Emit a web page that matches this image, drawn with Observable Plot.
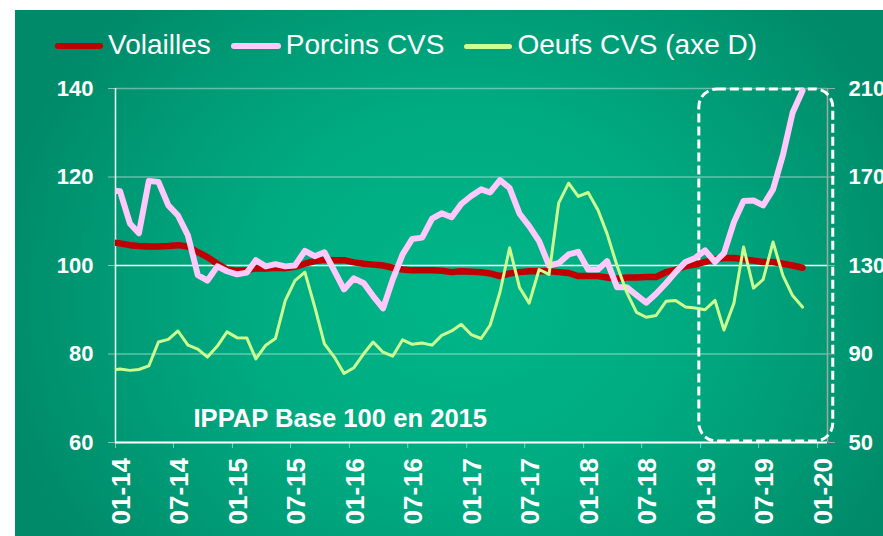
<!DOCTYPE html>
<html>
<head>
<meta charset="utf-8">
<script src="https://cdn.jsdelivr.net/npm/d3@7"></script>
<script src="https://cdn.jsdelivr.net/npm/@observablehq/plot@0.6"></script>
<style>
  html, body { margin: 0; padding: 0; background: #fff; }
  #wrap { position: relative; width: 883px; height: 536px; overflow: hidden; background: #fff;
          font-family: "Liberation Sans", Arial, Helvetica, sans-serif; }
  #bg { position: absolute; left: 15px; top: 10px; right: 0; bottom: 0;
        background: radial-gradient(ellipse 55% 80% at 52% 55%, #00b689 0%, #00ab81 45%, #009a75 75%, #008a69 100%); }
  #chart { position: absolute; left: 0; top: 0; }
  #legend { position: absolute; left: 55px; top: 31px; height: 28px; display: flex; align-items: center;
            color: #fff; font-size: 28px; line-height: 28px; white-space: nowrap; }
  #legend .sw { display: inline-block; border-radius: 3px; margin-right: 5px; position: relative; top: 1px; }
  #legend .it { display: flex; align-items: center; margin-right: 20px; }
</style>
</head>
<body>
<div id="wrap">
  <div id="bg"></div>
  <div id="chart"></div>
  <div id="legend"></div>
</div>
<script>
// ---- data (monthly, Dec 2013 .. Nov 2019) ----
const seriesNames = ["Volailles", "Porcins CVS", "Oeufs CVS (axe D)"];
const seriesColors = ["#c00000", "#ffc9fb", "#ccff90"];

const volailles = [105.3,
  105.0, 104.6, 104.4, 104.3, 104.3, 104.4, 104.6, 104.3, 103.0, 101.9, 100.4, 99.1,
  98.8, 98.9, 99.4, 99.3, 99.5, 99.4, 99.7, 100.4, 101.0, 101.3, 101.2, 101.2,
  100.7, 100.4, 100.2, 100.0, 99.5, 99.1, 98.9, 98.9, 98.9, 98.8, 98.5, 98.7,
  98.6, 98.5, 98.2, 97.6, 98.2, 98.5, 98.7, 98.7, 98.7, 98.5, 98.3, 97.6,
  97.6, 97.6, 97.3, 97.0, 97.3, 97.3, 97.4, 97.4, 98.5, 99.0, 99.9, 100.2,
  100.8, 101.4, 101.7, 101.7, 101.4, 101.1, 100.8, 100.8, 100.4, 100.0, 99.5];

const porcins = [117.0,
  116.8, 109.5, 107.3, 119.1, 118.9, 113.6, 111.3, 106.8, 97.8, 96.6, 99.8, 98.7,
  98.0, 98.4, 101.2, 99.8, 100.3, 99.8, 100.0, 103.3, 102.1, 103.0, 98.8, 94.6,
  97.1, 96.0, 93.1, 90.3, 96.8, 102.5, 106.0, 106.3, 110.6, 111.8, 110.9, 113.9,
  115.7, 117.2, 116.5, 119.3, 117.5, 111.7, 108.9, 105.5, 100.0, 100.5, 102.5, 103.1,
  99.1, 99.1, 101.0, 95.1, 95.1, 93.3, 91.6, 93.6, 96.0, 98.5, 100.8, 101.7,
  103.4, 100.8, 102.8, 109.8, 114.6, 114.7, 113.6, 117.2, 125.0, 134.5, 139.5];

const oeufs = [82.6,
  83.2, 82.6, 83.0, 84.6, 95.4, 96.6, 100.4, 94.0, 92.2, 88.6, 93.6, 100.0,
  97.4, 97.2, 87.8, 94.0, 97.0, 114.2, 123.2, 127.0, 111.2, 94.6, 88.6, 81.2,
  83.8, 90.2, 95.4, 90.8, 89.0, 96.4, 94.4, 95.0, 94.0, 98.4, 100.4, 103.4,
  98.8, 97.0, 103.0, 118.0, 138.0, 120.0, 113.0, 128.2, 126.0, 158.2, 167.2, 161.2,
  163.0, 155.0, 144.4, 130.0, 118.0, 108.8, 106.6, 107.4, 113.8, 114.2, 111.2, 110.8,
  110.0, 114.2, 100.8, 113.0, 138.4, 119.8, 123.6, 140.6, 125.4, 116.4, 111.2];

const leftTicks = [60, 80, 100, 120, 140];
const rightTicks = [50, 90, 130, 170, 210];
const xDomain = [new Date(Date.UTC(2014, 0, 1)), new Date(Date.UTC(2020, 1, 1))];
const xTicks = d3.utcMonth.every(6).range(new Date(Date.UTC(2014, 0, 1)), new Date(Date.UTC(2020, 0, 2)));
const noteText = "IPPAP Base 100 en 2015";
const highlight = { x1: new Date(Date.UTC(2018, 11, 28)), x2: new Date(Date.UTC(2020, 1, 19)), y1: 60.2, y2: 139.8 };

// ---- build table ----
const firstMonth = new Date(Date.UTC(2013, 11, 15));
const months = volailles.map((_, i) => d3.utcMonth.offset(firstMonth, i));
const table = months.map((date, i) => ({ date, volailles: volailles[i], porcins: porcins[i], oeufs: oeufs[i] }));

// right axis (50..210) mapped onto left axis (60..140)
const toLeft = r => 60 + (r - 50) / 2;
const toRight = l => Math.round(50 + (l - 60) * 2);

const FONT = '"Liberation Sans", Arial, Helvetica, sans-serif';

const chart = Plot.plot({
  width: 883,
  height: 536,
  marginTop: 88,
  marginBottom: 94,
  marginLeft: 115,
  marginRight: 56,
  style: { background: "transparent", color: "white", fontFamily: FONT },
  x: { type: "utc", domain: xDomain, axis: null },
  y: { domain: [60, 140], axis: null },
  marks: [
    // grid
    Plot.ruleY(leftTicks.filter(v => v !== 60 && v !== 100), { stroke: "white", strokeOpacity: 0.38, strokeWidth: 1.5 }),
    Plot.ruleY([100], { stroke: "white", strokeWidth: 1.5 }),
    // left axis
    Plot.axisY({ anchor: "left", ticks: leftTicks, tickSize: 7, tickPadding: 15, stroke: "white", strokeOpacity: 0.5,
                 fill: "white", fontSize: 22, fontWeight: "bold", tickFormat: d => String(d) }),
    // right axis
    Plot.axisY({ anchor: "right", ticks: rightTicks.map(toLeft), tickSize: 7, tickPadding: 14, stroke: "#a0a8a4",
                 fill: "white", fontSize: 22, fontWeight: "bold", tickFormat: d => String(toRight(d)) }),
    // x axis ticks
    Plot.axisX({ ticks: xTicks, tickSize: 6, fill: "none", stroke: "white", strokeOpacity: 0.5 }),
    // x axis labels
    Plot.axisX({ ticks: xTicks, tickSize: 0, tickPadding: 15.5, tickRotate: -90, textAnchor: "end", lineAnchor: "middle",
                 dx: 6, fill: "white", fontSize: 26, fontWeight: "bold", tickFormat: d3.utcFormat("%m-%y") }),
    // frame lines
    Plot.ruleX([xDomain[0]], { stroke: "white", strokeWidth: 1.5 }),
    Plot.ruleX([xDomain[1]], { stroke: "#a0a8a4", strokeWidth: 1.5 }),
    Plot.ruleY([60], { stroke: "white", strokeWidth: 2 }),
    // highlight box
    Plot.rect([highlight], { x1: "x1", x2: "x2", y1: "y1", y2: "y2", rx: 18, fill: "none",
                             stroke: "white", strokeWidth: 3, strokeDasharray: "9,4" }),
    // series
    Plot.line(table, { x: "date", y: "volailles", stroke: seriesColors[0], strokeWidth: 6.5, clip: true,
                       strokeLinejoin: "round", strokeLinecap: "round" }),
    Plot.line(table, { x: "date", y: "porcins", stroke: seriesColors[1], strokeWidth: 6, clip: true,
                       strokeLinejoin: "round", strokeLinecap: "round" }),
    Plot.line(table, { x: "date", y: d => toLeft(d.oeufs), stroke: seriesColors[2], strokeWidth: 3, clip: true,
                       strokeLinejoin: "round", strokeLinecap: "round" }),
    // note
    Plot.text([noteText], { frameAnchor: "bottom-left", textAnchor: "start", lineAnchor: "bottom",
                            dx: 78, dy: -16, fill: "white", fontSize: 25.6, fontWeight: "bold" })
  ]
});
document.getElementById("chart").appendChild(chart);

// legend
const legend = document.getElementById("legend");
const swW = [48, 50, 48], swH = [6, 6, 5];
seriesNames.forEach((name, i) => {
  const it = document.createElement("span");
  it.className = "it";
  const sw = document.createElement("span");
  sw.className = "sw";
  sw.style.width = swW[i] + "px";
  sw.style.height = swH[i] + "px";
  sw.style.background = seriesColors[i];
  const tx = document.createElement("span");
  tx.textContent = name;
  it.appendChild(sw);
  it.appendChild(tx);
  legend.appendChild(it);
});
</script>
</body>
</html>
